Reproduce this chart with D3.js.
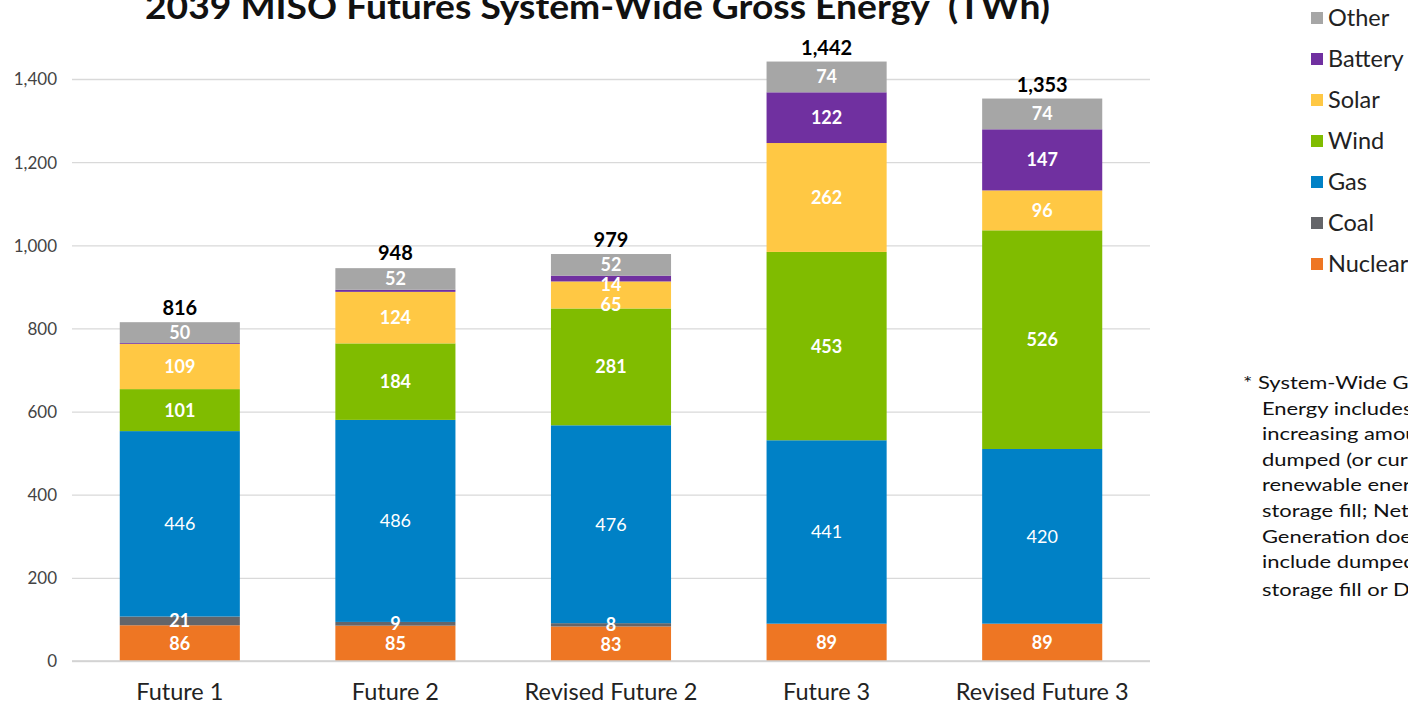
<!DOCTYPE html>
<html lang="en">
	<head>
		<meta charset="utf-8">
		<title>2039 MISO Futures System-Wide Gross Energy</title>
		<script src="https://d3js.org/d3.v7.min.js"></script>
		<style type="text/css">
			body {
				margin: 0;
				background: #fff;
				overflow: hidden;
			}
			svg {
				font-family: Lato, "Open Sans", sans-serif;
			}
			.grid line {
				stroke: #d9d9d9;
				stroke-width: 1.3px;
			}
		</style>
	</head>
	<body>
		<script type="text/javascript">

			//Data (TWh)
			var futures = ["Future 1", "Future 2", "Revised Future 2", "Future 3", "Revised Future 3"];
			var sources = ["Nuclear", "Coal", "Gas", "Wind", "Solar", "Battery", "Other"];
			var nuclear = [86, 85, 83, 89, 89];
			var coal    = [21, 9, 8, 1, 1];
			var gas     = [446, 486, 476, 441, 420];
			var wind    = [101, 184, 281, 453, 526];
			var solar   = [109, 124, 65, 262, 96];
			var battery = [2, 5, 14, 122, 147];
			var other   = [50, 52, 52, 74, 74];
			var totals  = [816, 948, 979, 1442, 1353];
			var yTicks  = [0, 200, 400, 600, 800, 1000, 1200, 1400];
			var colors  = ["#ee7623", "#646569", "#0081c6", "#80bc00", "#ffc844", "#7030a0", "#a6a6a6"];
			var footnote = ["* System-Wide Gross", "Energy includes", "increasing amounts of",
				"dumped (or curtailed)", "renewable energy and", "storage fill; Net",
				"Generation does not", "include dumped energy,", "storage fill or DR"];

			//Width and height
			var w = 1408;
			var h = 704;

			//Build rows for the stack
			var seriesValues = [nuclear, coal, gas, wind, solar, battery, other];
			var rows = futures.map(function(f, i) {
				var row = { future: f };
				sources.forEach(function(s, j) { row[s] = seriesValues[j][i]; });
				return row;
			});

			var stack = d3.stack().keys(sources);
			var layers = stack(rows);

			var x = d3.scaleBand()
						.domain(futures)
						.range([72, 1150])
						.paddingInner(0.443)
						.paddingOuter(0.2215);

			var y = d3.scaleLinear()
						.domain([0, 1400])
						.range([661, 79]);

			var color = d3.scaleOrdinal()
						.domain(sources)
						.range(colors);

			var svg = d3.select("body")
						.append("svg")
						.attr("width", w)
						.attr("height", h);

			//Title (cut at the top like the original, a bit condensed)
			var title = svg.append("text")
				.attr("x", 145)
				.attr("y", 19)
				.attr("textLength", 905)
				.attr("lengthAdjust", "spacingAndGlyphs")
				.style("font-size", "35px")
				.style("font-weight", "bold")
				.attr("fill", "#111");
			title.append("tspan").text("2039 MISO Futures System-Wide Gross Energy");
			title.append("tspan").attr("dy", -16).style("font-size", "20px").text("*");
			title.append("tspan").attr("dy", 16).text("  (TWh)");

			//Gridlines
			svg.append("g")
				.attr("class", "grid")
				.attr("transform", "translate(72,0)")
				.call(d3.axisLeft(y).tickValues(yTicks).tickSize(-1078).tickFormat(""))
				.call(function(g) { g.select(".domain").remove(); });

			//Y tick labels
			svg.append("g")
				.attr("transform", "translate(57,0)")
				.call(d3.axisLeft(y).tickValues(yTicks).tickSize(0).tickFormat(d3.format(",")))
				.call(function(g) {
					g.select(".domain").remove();
					g.selectAll("text")
						.attr("x", 0)
						.attr("dy", "0.35em")
						.style("font-family", "Lato, sans-serif")
						.style("font-size", "17px")
						.attr("fill", "#444");
				});

			//Bars
			var layerG = svg.append("g")
						.selectAll("g")
						.data(layers)
						.enter()
						.append("g")
						.attr("fill", function(d) { return color(d.key); });

			layerG.selectAll("rect")
				.data(function(d) { return d; })
				.enter()
				.append("rect")
				.attr("x", function(d) { return x(d.data.future); })
				.attr("width", x.bandwidth())
				.attr("y", function(d) { return y(d[1]); })
				.attr("height", function(d) { return y(d[0]) - y(d[1]); });

			//Segment labels, from top down, pushed apart where they crowd
			var labelG = svg.append("g");
			futures.forEach(function(f, i) {
				var prevY = -Infinity;
				for (var j = layers.length - 1; j >= 0; j--) {
					var seg = layers[j][i];
					var v = seg[1] - seg[0];
					if (v < 8) continue;
					var cy = (y(seg[0]) + y(seg[1])) / 2;
					cy = Math.max(cy, prevY + 20);
					prevY = cy;
					labelG.append("text")
						.attr("x", x(f) + x.bandwidth() / 2)
						.attr("y", cy)
						.attr("dy", "0.36em")
						.attr("text-anchor", "middle")
						.attr("fill", "#fff")
						.style("font-size", "18px")
						.style("font-weight", sources[j] == "Gas" ? "normal" : "bold")
						.text(v);
				}
			});

			//Totals
			svg.append("g")
				.selectAll("text")
				.data(totals)
				.enter()
				.append("text")
				.attr("x", function(d, i) { return x(futures[i]) + x.bandwidth() / 2; })
				.attr("y", function(d) { return y(d) - 7; })
				.attr("text-anchor", "middle")
				.attr("fill", "#000")
				.style("font-size", "20px")
				.style("font-weight", "bold")
				.text(d3.format(","));

			//Baseline
			svg.append("line")
				.attr("x1", 72)
				.attr("x2", 1150)
				.attr("y1", y(0))
				.attr("y2", y(0))
				.attr("stroke", "#d0d0d0")
				.attr("stroke-width", 1.5);

			//Category labels
			svg.append("g")
				.attr("transform", "translate(0," + (y(0) + 39) + ")")
				.call(d3.axisBottom(x).tickSize(0))
				.call(function(g) {
					g.select(".domain").remove();
					g.selectAll("text")
						.attr("y", 0)
						.attr("dy", "0")
						.style("font-family", "Lato, sans-serif")
						.style("font-size", "23.5px")
						.attr("fill", "#222");
				});

			//Legend (reversed order, top is Other)
			var legend = svg.append("g")
						.selectAll("g")
						.data(sources.slice().reverse())
						.enter()
						.append("g")
						.attr("transform", function(d, i) { return "translate(1311," + (18 + i * 41) + ")"; });

			legend.append("rect")
				.attr("x", 0)
				.attr("y", -6)
				.attr("width", 12)
				.attr("height", 12)
				.attr("fill", function(d) { return color(d); });

			legend.append("text")
				.attr("x", 17)
				.attr("dy", "0.36em")
				.style("font-size", "23.5px")
				.attr("fill", "#222")
				.text(function(d) { return d; });

			//Footnote, stretched sideways like the original
			svg.append("g")
				.attr("transform", "translate(1243,0) scale(1.22,1)")
				.selectAll("text")
				.data(footnote)
				.enter()
				.append("text")
				.attr("x", function(d, i) { return i == 0 ? 0 : 15.5; })
				.attr("y", function(d, i) { return 389 + i * 25.6 + (i == 8 ? 2 : 0); })
				.style("font-size", "18px")
				.attr("fill", "#111")
				.text(function(d) { return d; });

		</script>
	</body>
</html>
